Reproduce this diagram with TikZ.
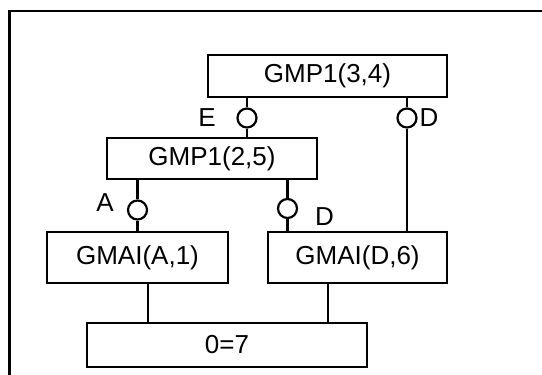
\documentclass[tikz,border=0pt]{standalone}
\usepackage{fontspec}
\setmainfont{Liberation Sans}

\tikzset{
  goal/.style={draw, line width=2.2pt, inner sep=0pt, font=\fontsize{26}{30}\selectfont},
  port/.style={draw, circle, line width=2.2pt, minimum size=19pt, inner sep=0pt},
  link/.style={line width=2.2pt},
  tag/.style={inner sep=0pt, font=\fontsize{26}{30}\selectfont}
}

\begin{document}
\begin{tikzpicture}[x=1pt,y=-1pt]
  \useasboundingbox (0,0) rectangle (542,375);
  \draw[line width=2.2pt] (9.5,375) -- (9.5,11) -- (542,11);

  \node[goal, minimum width=239pt, minimum height=42pt] (gmpTop) at (327.5,76) {GMP1(3,4)};
  \node[goal, minimum width=210pt, minimum height=41pt] (gmpMid) at (212,158.5) {GMP1(2,5)};
  \node[goal, minimum width=181pt, minimum height=51pt] (gmaiA) at (137.5,257.5) {GMAI(A,1)};
  \node[goal, minimum width=179pt, minimum height=51pt] (gmaiD) at (357.5,257.5) {GMAI(D,6)};
  \node[goal, minimum width=280pt, minimum height=44pt] (contra) at (227,345) {0=7};

  \node[port] (portE) at (247,118) {};
  \node[port] (portD) at (407,118) {};
  \node[port] (portA) at (137.5,210) {};
  \node[port] (portDlow) at (287.5,208.5) {};

  \node[tag] (tagE) at (207,118) {E};
  \node[tag] (tagD) at (429,118) {D};
  \node[tag] (tagA) at (105,203) {A};
  \node[tag] (tagDlow) at (324.5,217) {D};

  \draw[link] (gmpTop.south -| portE) -- (portE) -- (gmpMid.north -| portE);
  \draw[link] (gmpTop.south -| portD) -- (portD) -- (gmaiD.north -| portD);
  \draw[link] (gmpMid.south -| portA) -- (portA) -- (gmaiA.north -| portA);
  \draw[link] (gmpMid.south -| portDlow) -- (portDlow) -- (gmaiD.north -| portDlow);
  %\draw[link] (gmaiA) -- (contra);
  \draw[link] ([xshift=10.5pt]gmaiA.south) -- ([xshift=10.5pt]gmaiA.south |- contra.north);
  \draw[link] ([xshift=-29.5pt]gmaiD.south) -- ([xshift=-29.5pt]gmaiD.south |- contra.north);
\end{tikzpicture}
\end{document}
